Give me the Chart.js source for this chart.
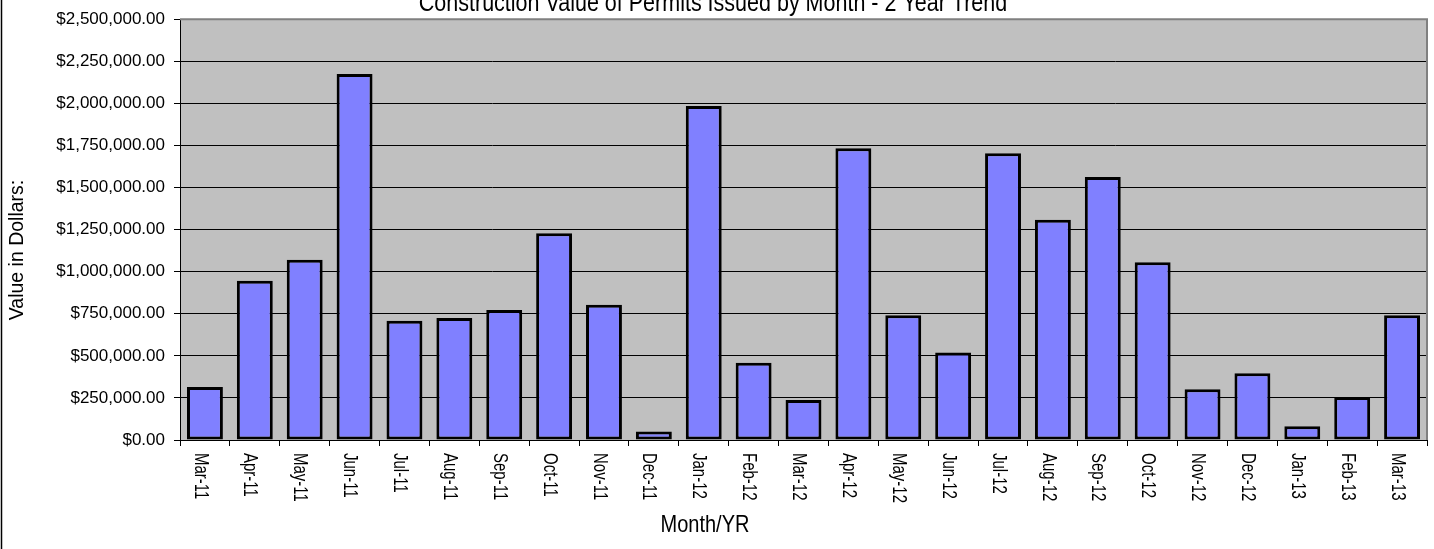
<!DOCTYPE html>
<html>
<head>
<meta charset="utf-8">
<script src="https://cdn.jsdelivr.net/npm/chart.js@4"></script>
<style>
  html, body { margin: 0; padding: 0; background: #fff; }
  canvas { display: block; }
</style>
</head>
<body>
<canvas id="myChart" width="1434" height="549"></canvas>
<script>
const months = ['Mar-11','Apr-11','May-11','Jun-11','Jul-11','Aug-11','Sep-11','Oct-11','Nov-11','Dec-11',
  'Jan-12','Feb-12','Mar-12','Apr-12','May-12','Jun-12','Jul-12','Aug-12','Sep-12','Oct-12',
  'Nov-12','Dec-12','Jan-13','Feb-13','Mar-13'];
const permitValues = [315000, 946000, 1071000, 2175000, 709000, 725000, 772000, 1229000, 804000, 51000,
  1984000, 459000, 238000, 1733000, 741000, 520000, 1704000, 1308000, 1562000, 1056000,
  301000, 396000, 81000, 256000, 741000];
const yTicks = [0, 250000, 500000, 750000, 1000000, 1250000, 1500000, 1750000, 2000000, 2250000, 2500000];

const chartTitle = 'Construction Value of Permits Issued by Month - 2 Year Trend';
const xTitle = 'Month/YR';
const yTitle = 'Value in Dollars:';

const FONT = '"Liberation Sans", Arial, sans-serif';

const money = v => '$' + v.toLocaleString('en-US', {minimumFractionDigits: 2, maximumFractionDigits: 2});

// text that looks a bit taller than wide, like the excel export
function tallText(ctx, txt, x, y, rot, stretch) {
  ctx.save();
  ctx.translate(x, y);
  ctx.rotate(rot);
  ctx.scale(1, stretch);
  ctx.fillText(txt, 0, 0);
  ctx.restore();
}

// grey plot area + its border, the outer chart frame, and all the free text
const excelLook = {
  id: 'excelLook',
  beforeDraw(chart) {
    const {ctx, chartArea: a} = chart;
    ctx.save();
    ctx.fillStyle = '#C0C0C0';
    ctx.fillRect(a.left, a.top, a.right - a.left, a.bottom - a.top);
    ctx.restore();
  },
  afterDraw(chart) {
    const {ctx, chartArea: a} = chart;
    const xs = chart.scales.x;
    ctx.save();
    // plot border top / right
    ctx.strokeStyle = '#808080';
    ctx.lineWidth = 2;
    ctx.beginPath();
    ctx.moveTo(a.left, a.top);
    ctx.lineTo(a.right, a.top);
    ctx.lineTo(a.right, a.bottom);
    ctx.stroke();
    // chart frame left edge
    ctx.strokeStyle = '#000';
    ctx.lineWidth = 1.5;
    ctx.beginPath();
    ctx.moveTo(1.5, 0);
    ctx.lineTo(1.5, chart.height);
    ctx.stroke();

    ctx.fillStyle = '#000';
    // rotated month labels (reading downward)
    ctx.font = '15px ' + FONT;
    ctx.textAlign = 'left';
    ctx.textBaseline = 'alphabetic';
    months.forEach((m, i) => {
      const x = xs.getPixelForValue(i);
      ctx.save();
      ctx.translate(x, 453);
      ctx.rotate(Math.PI / 2);
      ctx.scale(1, 1.3);
      ctx.fillText(m, 0, 8);
      ctx.restore();
    });

    // titles
    ctx.textAlign = 'center';
    ctx.font = '21.5px ' + FONT;
    tallText(ctx, chartTitle, 713, 11, 0, 1.2);
    ctx.font = '20px ' + FONT;
    tallText(ctx, xTitle, 705, 532, 0, 1.2);
    ctx.textBaseline = 'middle';
    ctx.font = '19.5px ' + FONT;
    tallText(ctx, yTitle, 18, 250, -Math.PI / 2, 1);
    ctx.restore();
  }
};

const ctx = document.querySelector('#myChart');
const myChart = new Chart(ctx, {
  type: 'bar',
  data: {
    labels: months,
    datasets: [{
      label: 'Value',
      data: permitValues,
      backgroundColor: '#8080FF',
      borderColor: '#000',
      borderWidth: 3,
      borderSkipped: false,
      barPercentage: 0.72,
      categoryPercentage: 1
    }]
  },
  options: {
    responsive: false,
    animation: false,
    devicePixelRatio: 1,
    layout: { padding: { top: 17, right: 7, left: 0, bottom: 0 } },
    plugins: {
      legend: { display: false },
      title: { display: false },
      tooltip: { enabled: false }
    },
    scales: {
      x: {
        offset: true,
        grid: { offset: true, drawOnChartArea: false, drawTicks: true, tickLength: 6, color: '#000', lineWidth: 1 },
        border: { display: true, color: '#000', width: 1 },
        ticks: { display: false, autoSkip: false },
        afterFit(scale) { scale.height = 109; }
      },
      y: {
        min: 0,
        max: 2500000,
        grid: { color: '#000', lineWidth: 1, tickLength: 6, drawTicks: true },
        border: { display: true, color: '#000', width: 1 },
        ticks: {
          color: '#000',
          padding: 9,
          font: { family: FONT, size: 17 },
          callback: v => money(v)
        },
        afterBuildTicks(scale) { scale.ticks = yTicks.map(v => ({ value: v })); },
        afterFit(scale) { scale.width = 180; }
      }
    }
  },
  plugins: [excelLook]
});
</script>
</body>
</html>
